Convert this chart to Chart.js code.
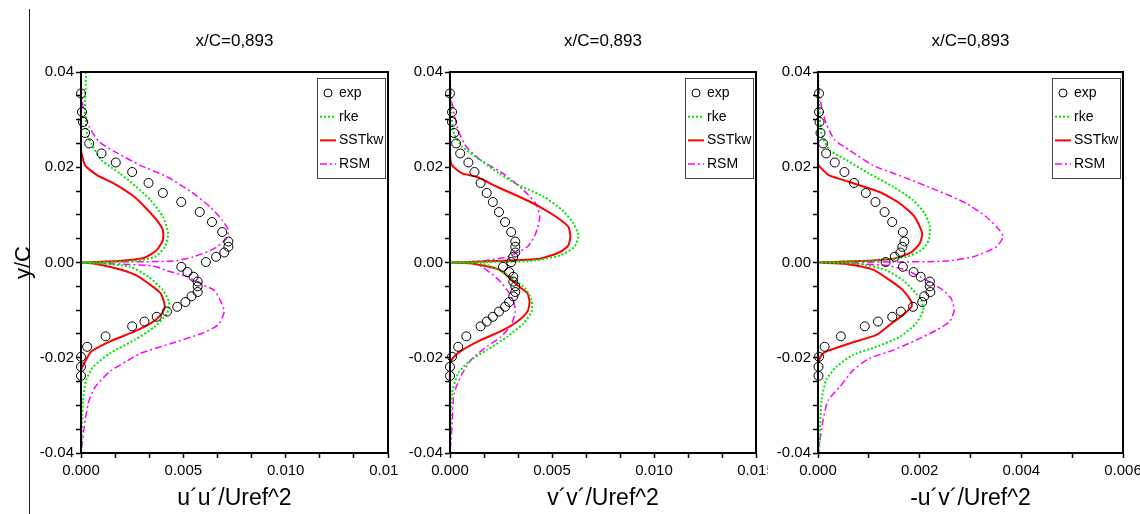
<!DOCTYPE html>
<html>
<head>
<meta charset="utf-8">
<script src="https://cdn.jsdelivr.net/npm/chart.js@4.4.0/dist/chart.umd.min.js"></script>
<style>
  html, body { margin: 0; padding: 0; background: #fff; }
  body { width: 1140px; height: 514px; position: relative; overflow: hidden; }
  .panel { position: absolute; top: 0; height: 514px; overflow: hidden; }
  .rule { position: absolute; left: 29px; top: 9px; width: 1px; height: 505px; background: #222; }
</style>
</head>
<body>
<div class="rule"></div>
<div class="panel" style="left:0;width:398px"><canvas id="uu" width="430" height="514"></canvas></div>
<div class="panel" style="left:398px;width:370px"><canvas id="vv" width="400" height="514"></canvas></div>
<div class="panel" style="left:768px;width:372px"><canvas id="uv" width="400" height="514"></canvas></div>
<script>
// measured y/C stations of the experimental profile (shared by all three quantities)
const expY = [0.0355, 0.0316, 0.0295, 0.0272, 0.025, 0.0229, 0.021, 0.019, 0.0167, 0.0146,
  0.0127, 0.0106, 0.0085, 0.0064, 0.0044, 0.0033, 0.0021, 0.0012, 0.0001, -0.0009,
  -0.002, -0.003, -0.004, -0.005, -0.0062, -0.0071, -0.0083, -0.0093, -0.0103, -0.0114,
  -0.0124, -0.0134, -0.0155, -0.0177, -0.0198, -0.0219, -0.0238];

// u'u'/Uref^2
const uuExp = [0, 0.00005, 0.0001, 0.0002, 0.0004, 0.001, 0.0017, 0.0025, 0.0033, 0.004,
  0.0049, 0.0058, 0.0064, 0.0069, 0.0072, 0.0072, 0.007, 0.0066, 0.0061, 0.0049,
  0.0052, 0.0055, 0.0057, 0.0057, 0.0057, 0.0054, 0.0051, 0.0047, 0.0042, 0.0037,
  0.0031, 0.0025, 0.0012, 0.0003, 0, 0, 0];
const uuRke = [[0.00025,0.04],[0.0002,0.032],[0.0003,0.027],[0.0005,0.025],[0.001,0.0215],[0.0019,0.0187],
  [0.0027,0.0159],[0.0034,0.0131],[0.004,0.0096],[0.00426,0.0061],[0.0041,0.0033],[0.0036,0.0012],
  [0.0026,0.0003],[0.0008,0.00005],[0,0],[0.0009,-0.0002],[0.0024,-0.0009],[0.0033,-0.003],
  [0.004,-0.0058],[0.0043,-0.0083],[0.0042,-0.0107],[0.0036,-0.0135],[0.0026,-0.0163],
  [0.0014,-0.0191],[0.0006,-0.0219],[0.00025,-0.0247],[0.0001,-0.0289],[0,-0.04]];
const uuSst = [[0,0.04],[0,0.0235],[0.00005,0.0225],[0.0002,0.0204],[0.0008,0.0183],[0.0016,0.0166],
  [0.0026,0.0138],[0.0032,0.0113],[0.0037,0.0089],[0.004,0.0068],[0.004,0.0047],[0.0037,0.0026],
  [0.0031,0.001],[0.0018,0.0003],[0,0],[0.0006,-0.0002],[0.0016,-0.0011],[0.0026,-0.0025],
  [0.0033,-0.0044],[0.0039,-0.0065],[0.0041,-0.0093],[0.0039,-0.011],[0.0034,-0.0128],
  [0.0026,-0.0145],[0.0014,-0.0166],[0.0005,-0.0187],[0.0002,-0.0208],[0,-0.0226],[0,-0.04]];
const uuRsm = [[0,0.04],[0,0.0375],[0.0001,0.0327],[0.0004,0.0285],[0.0009,0.0253],[0.0018,0.0229],
  [0.0029,0.0204],[0.0042,0.018],[0.0054,0.0148],[0.0063,0.0117],[0.0069,0.0089],[0.0072,0.0068],
  [0.0071,0.005],[0.0065,0.0029],[0.0055,0.0012],[0.0045,0.0003],[0.0009,0.0001],[0,0],
  [0.0005,-0.0001],[0.0035,-0.0007],[0.0042,-0.0017],[0.0052,-0.003],[0.006,-0.0048],
  [0.0065,-0.0058],[0.0068,-0.0079],[0.007,-0.0103],[0.0067,-0.0131],[0.0059,-0.0149],
  [0.0044,-0.017],[0.0029,-0.0191],[0.0022,-0.0208],[0.0014,-0.0229],[0.0007,-0.0261],
  [0.0004,-0.0289],[0.0002,-0.0331],[0,-0.04]];

// v'v'/Uref^2
const vvExp = [0, 0.0001, 0.0001, 0.0002, 0.0003, 0.0005, 0.0009, 0.0012, 0.0015, 0.0018,
  0.0021, 0.0024, 0.0027, 0.003, 0.0032, 0.0032, 0.0032, 0.0031, 0.003, 0.0026,
  0.0029, 0.0031, 0.0031, 0.0032, 0.0032, 0.0031, 0.0029, 0.0027, 0.0024, 0.0021,
  0.0018, 0.0015, 0.0008, 0.0004, 0.0001, 0, 0];
const vvRke = [[0,0.04],[0.00005,0.032],[0.0002,0.027],[0.0006,0.0243],[0.0015,0.0215],[0.0024,0.0187],
  [0.0034,0.0162],[0.0046,0.0138],[0.0055,0.011],[0.006,0.0085],[0.0063,0.0057],[0.0061,0.0033],
  [0.0054,0.0015],[0.0039,0.0003],[0.0015,0.0001],[0,0],[0.0015,-0.0002],[0.0023,-0.0013],
  [0.0031,-0.0034],[0.0037,-0.0055],[0.004,-0.0079],[0.004,-0.0103],[0.0036,-0.0128],
  [0.0028,-0.0156],[0.0018,-0.0184],[0.001,-0.0205],[0.0004,-0.0233],[0.0001,-0.0275],[0,-0.04]];
const vvSst = [[0,0.04],[0,0.0229],[0.0001,0.0204],[0.0006,0.0187],[0.0013,0.018],[0.0023,0.0159],
  [0.0034,0.0138],[0.0044,0.0117],[0.0052,0.0096],[0.0058,0.0075],[0.0059,0.0054],[0.0058,0.0036],
  [0.0054,0.0022],[0.0044,0.0008],[0.0023,0.0003],[0,0],[0.0012,-0.0003],[0.0024,-0.0015],
  [0.003,-0.0035],[0.0034,-0.0051],[0.0038,-0.0065],[0.0039,-0.0083],[0.0038,-0.0103],
  [0.0033,-0.0124],[0.0026,-0.0142],[0.0015,-0.0163],[0.0006,-0.0184],[0.0002,-0.0198],
  [0,-0.0212],[0,-0.04]];
const vvRsm = [[0,0.04],[0,0.0375],[0.0001,0.0334],[0.0004,0.0278],[0.0008,0.0243],[0.0015,0.0215],
  [0.0026,0.0187],[0.0036,0.0152],[0.0042,0.0124],[0.0044,0.0096],[0.0042,0.0061],[0.0038,0.0033],
  [0.0028,0.0012],[0.0015,0.0003],[0,0],[0.0013,-0.0003],[0.0018,-0.0016],[0.0024,-0.0037],
  [0.0028,-0.0058],[0.0031,-0.0079],[0.0032,-0.0103],[0.003,-0.0131],[0.0025,-0.0156],
  [0.0018,-0.0177],[0.0011,-0.0201],[0.0006,-0.0233],[0.0002,-0.0275],[0.0001,-0.0345],[0,-0.04]];

// -u'v'/Uref^2
const uvExp = [0.00002, 0.00002, 0.00003, 0.00005, 0.0001, 0.00016, 0.00033, 0.00052, 0.00071, 0.00094,
  0.00113, 0.00131, 0.00146, 0.00167, 0.0017, 0.00166, 0.00162, 0.00151, 0.00133, 0.00167,
  0.00188, 0.00202, 0.0022, 0.0022, 0.00221, 0.00209, 0.00205, 0.00187, 0.00163, 0.00146,
  0.00118, 0.00092, 0.00045, 0.00013, 0.00002, 0.00001, 0.00001];
const uvRke = [[0,0.04],[0.00003,0.032],[0.00007,0.0271],[0.00023,0.0236],[0.00056,0.0215],[0.001,0.0187],
  [0.00148,0.0159],[0.00187,0.0131],[0.0021,0.0103],[0.0022,0.0075],[0.00218,0.0047],[0.00203,0.0026],
  [0.00174,0.0012],[0.00095,0.0003],[0,0],[0.00082,-0.0003],[0.00134,-0.0016],[0.00167,-0.0037],
  [0.00187,-0.0058],[0.00203,-0.0079],[0.00207,-0.01],[0.00193,-0.0128],[0.00161,-0.0156],
  [0.00115,-0.0177],[0.00069,-0.0194],[0.00036,-0.0219],[0.00016,-0.0247],[0.00007,-0.0289],[0.00002,-0.04]];
const uvSst = [[0,0.04],[0,0.0208],[0.00007,0.0197],[0.00022,0.0183],[0.00062,0.0169],[0.00121,0.0148],
  [0.00161,0.0124],[0.0019,0.0096],[0.00205,0.0061],[0.002,0.004],[0.00184,0.0022],[0.00148,0.0008],
  [0.00082,0.0003],[0,0],[0.00056,-0.0003],[0.00108,-0.0015],[0.00141,-0.0037],[0.00167,-0.0058],
  [0.00184,-0.0083],[0.00184,-0.0093],[0.00167,-0.011],[0.00141,-0.0131],[0.00115,-0.0152],
  [0.00062,-0.017],[0.00016,-0.0187],[0.00007,-0.0194],[0,-0.0212],[0,-0.04]];
const uvRsm = [[0,0.04],[0,0.0375],[0.00007,0.0327],[0.00016,0.0292],[0.00033,0.0257],[0.00062,0.0236],
  [0.00108,0.0204],[0.00167,0.018],[0.00233,0.0152],[0.00292,0.0124],[0.00331,0.0096],[0.00357,0.0068],
  [0.00364,0.0054],[0.00351,0.0033],[0.00305,0.0012],[0.00252,0.0003],[0.00148,0.0001],[0,0],
  [0.00134,-0.0006],[0.00174,-0.0016],[0.00213,-0.0037],[0.00246,-0.0058],[0.00262,-0.0076],
  [0.00268,-0.01],[0.00259,-0.0124],[0.00233,-0.0142],[0.00193,-0.0163],[0.00148,-0.0184],
  [0.00102,-0.0201],[0.00069,-0.0226],[0.00043,-0.0261],[0.0002,-0.0289],[0.0001,-0.0331],[0,-0.04]];

// tick labels
const yTickLabels = ['-0.04', '-0.02', '0.00', '0.02', '0.04'];
const wideTickLabels = ['0.000', '0.005', '0.010', '0.015'];
const uvTickLabels = ['0.000', '0.002', '0.004', '0.006'];
const stationTitle = 'x/C=0,893';

Chart.defaults.font.family = '"Liberation Sans", Arial, sans-serif';
Chart.defaults.color = '#000';

// majors from the label list, with evenly split minor ticks between them
function tickValues(labels, splits) {
  const majors = labels.map(Number);
  const out = [];
  for (let i = 0; i < majors.length - 1; i++) {
    for (let k = 0; k < splits; k++) out.push(majors[i] + (majors[i + 1] - majors[i]) * k / splits);
  }
  out.push(majors[majors.length - 1]);
  return out;
}
function labelFor(labels) {
  return v => {
    const hit = labels.find(l => Math.abs(Number(l) - v) < 1e-9);
    return hit === undefined ? '' : hit;
  };
}

const framePlugin = {
  id: 'frame',
  afterDatasetsDraw(chart) {
    const { ctx, chartArea: a } = chart;
    ctx.save();
    ctx.strokeStyle = '#000';
    ctx.lineWidth = 2;
    ctx.strokeRect(a.left, a.top, a.right - a.left, a.bottom - a.top);
    ctx.restore();
  }
};

const boxLegend = {
  id: 'boxLegend',
  afterDraw(chart) {
    const { ctx, chartArea: a } = chart;
    const w = 68, h = 100;
    const x0 = Math.round(a.right - 3 - w), y0 = Math.round(a.top + 6);
    ctx.save();
    ctx.fillStyle = '#fff';
    ctx.fillRect(x0, y0, w, h);
    ctx.strokeStyle = '#444';
    ctx.lineWidth = 1;
    ctx.strokeRect(x0 + 0.5, y0 + 0.5, w, h);
    ctx.font = '14px "Liberation Sans", Arial, sans-serif';
    ctx.textBaseline = 'middle';
    chart.data.datasets.forEach((ds, i) => {
      const y = y0 + 15 + i * 23.7;
      if (ds.showLine) {
        ctx.strokeStyle = ds.borderColor;
        ctx.lineWidth = ds.borderWidth;
        ctx.setLineDash(ds.borderDash || []);
        ctx.beginPath();
        ctx.moveTo(x0 + 3, y);
        ctx.lineTo(x0 + 19, y);
        ctx.stroke();
        ctx.setLineDash([]);
      } else {
        ctx.strokeStyle = ds.pointBorderColor;
        ctx.lineWidth = 1;
        ctx.beginPath();
        ctx.arc(x0 + 11, y, 4, 0, Math.PI * 2);
        ctx.stroke();
      }
      ctx.fillStyle = '#000';
      ctx.fillText(ds.label, x0 + 22, y);
    });
    ctx.restore();
  }
};

function axisGrid() {
  return { display: true, drawOnChartArea: false, drawTicks: true, tickLength: 5, tickWidth: 1.5, tickColor: '#000' };
}

function makePanel(id, p) {
  const toXY = pairs => pairs.map(([x, y]) => ({ x, y }));
  new Chart(document.getElementById(id), {
    type: 'scatter',
    data: {
      datasets: [
        { label: 'exp', data: p.exp.map((x, i) => ({ x, y: expY[i] })), showLine: false,
          pointStyle: 'circle', pointRadius: 4.5, pointBorderWidth: 1, pointBorderColor: '#000',
          pointBackgroundColor: 'rgba(0,0,0,0)', clip: 8 },
        { label: 'rke', data: toXY(p.rke), showLine: true, borderColor: '#00e600', borderWidth: 2,
          borderDash: [2, 2], pointRadius: 0, tension: 0.2 },
        { label: 'SSTkw', data: toXY(p.sst), showLine: true, borderColor: '#ff0000', borderWidth: 2,
          pointRadius: 0, tension: 0.2 },
        { label: 'RSM', data: toXY(p.rsm), showLine: true, borderColor: '#ff00ff', borderWidth: 1.5,
          borderDash: [7, 3, 2, 3], pointRadius: 0, tension: 0.2 }
      ]
    },
    options: {
      responsive: false,
      animation: false,
      events: [],
      layout: { padding: { left: 0, right: p.padRight, top: 0, bottom: 0 } },
      plugins: {
        legend: { display: false },
        tooltip: { enabled: false },
        title: { display: true, text: stationTitle, fullSize: false, color: '#000',
          font: { size: 17, weight: 'normal' }, padding: { top: 30.8, bottom: 20.8 } }
      },
      scales: {
        x: {
          type: 'linear', min: 0, max: Number(p.xLabels[p.xLabels.length - 1]),
          afterBuildTicks: s => { s.ticks = tickValues(p.xLabels, p.xSplits).map(value => ({ value })); },
          afterFit: s => { s.height = 61; },
          ticks: { callback: labelFor(p.xLabels), autoSkip: false, maxRotation: 0, padding: 4, font: { size: 15 } },
          grid: axisGrid(),
          border: { display: true, color: '#000', width: 2 },
          title: { display: true, text: p.xTitle, font: { size: 23 }, padding: { top: 0, bottom: 1.2 } }
        },
        y: {
          type: 'linear', min: -0.04, max: 0.04,
          afterBuildTicks: s => { s.ticks = tickValues(yTickLabels, 4).map(value => ({ value })); },
          afterFit: s => { s.width = p.yWidth; },
          ticks: { callback: labelFor(yTickLabels), autoSkip: false, padding: 2, font: { size: 15 } },
          grid: axisGrid(),
          border: { display: true, color: '#000', width: 2 },
          title: { display: p.yTitle, text: 'y/C', font: { size: 22 }, padding: { top: 11, bottom: 0 } }
        }
      }
    },
    plugins: [framePlugin, boxLegend]
  });
}

makePanel('uu', { exp: uuExp, rke: uuRke, sst: uuSst, rsm: uuRsm, xLabels: wideTickLabels, xSplits: 3,
  xTitle: 'u\u00b4u\u00b4/Uref^2', yWidth: 81, padRight: 42, yTitle: true });
makePanel('vv', { exp: vvExp, rke: vvRke, sst: vvSst, rsm: vvRsm, xLabels: wideTickLabels, xSplits: 3,
  xTitle: 'v\u00b4v\u00b4/Uref^2', yWidth: 52, padRight: 42, yTitle: false });
makePanel('uv', { exp: uvExp, rke: uvRke, sst: uvSst, rsm: uvRsm, xLabels: uvTickLabels, xSplits: 2,
  xTitle: '-u\u00b4v\u00b4/Uref^2', yWidth: 50, padRight: 45, yTitle: false });
</script>
</body>
</html>
